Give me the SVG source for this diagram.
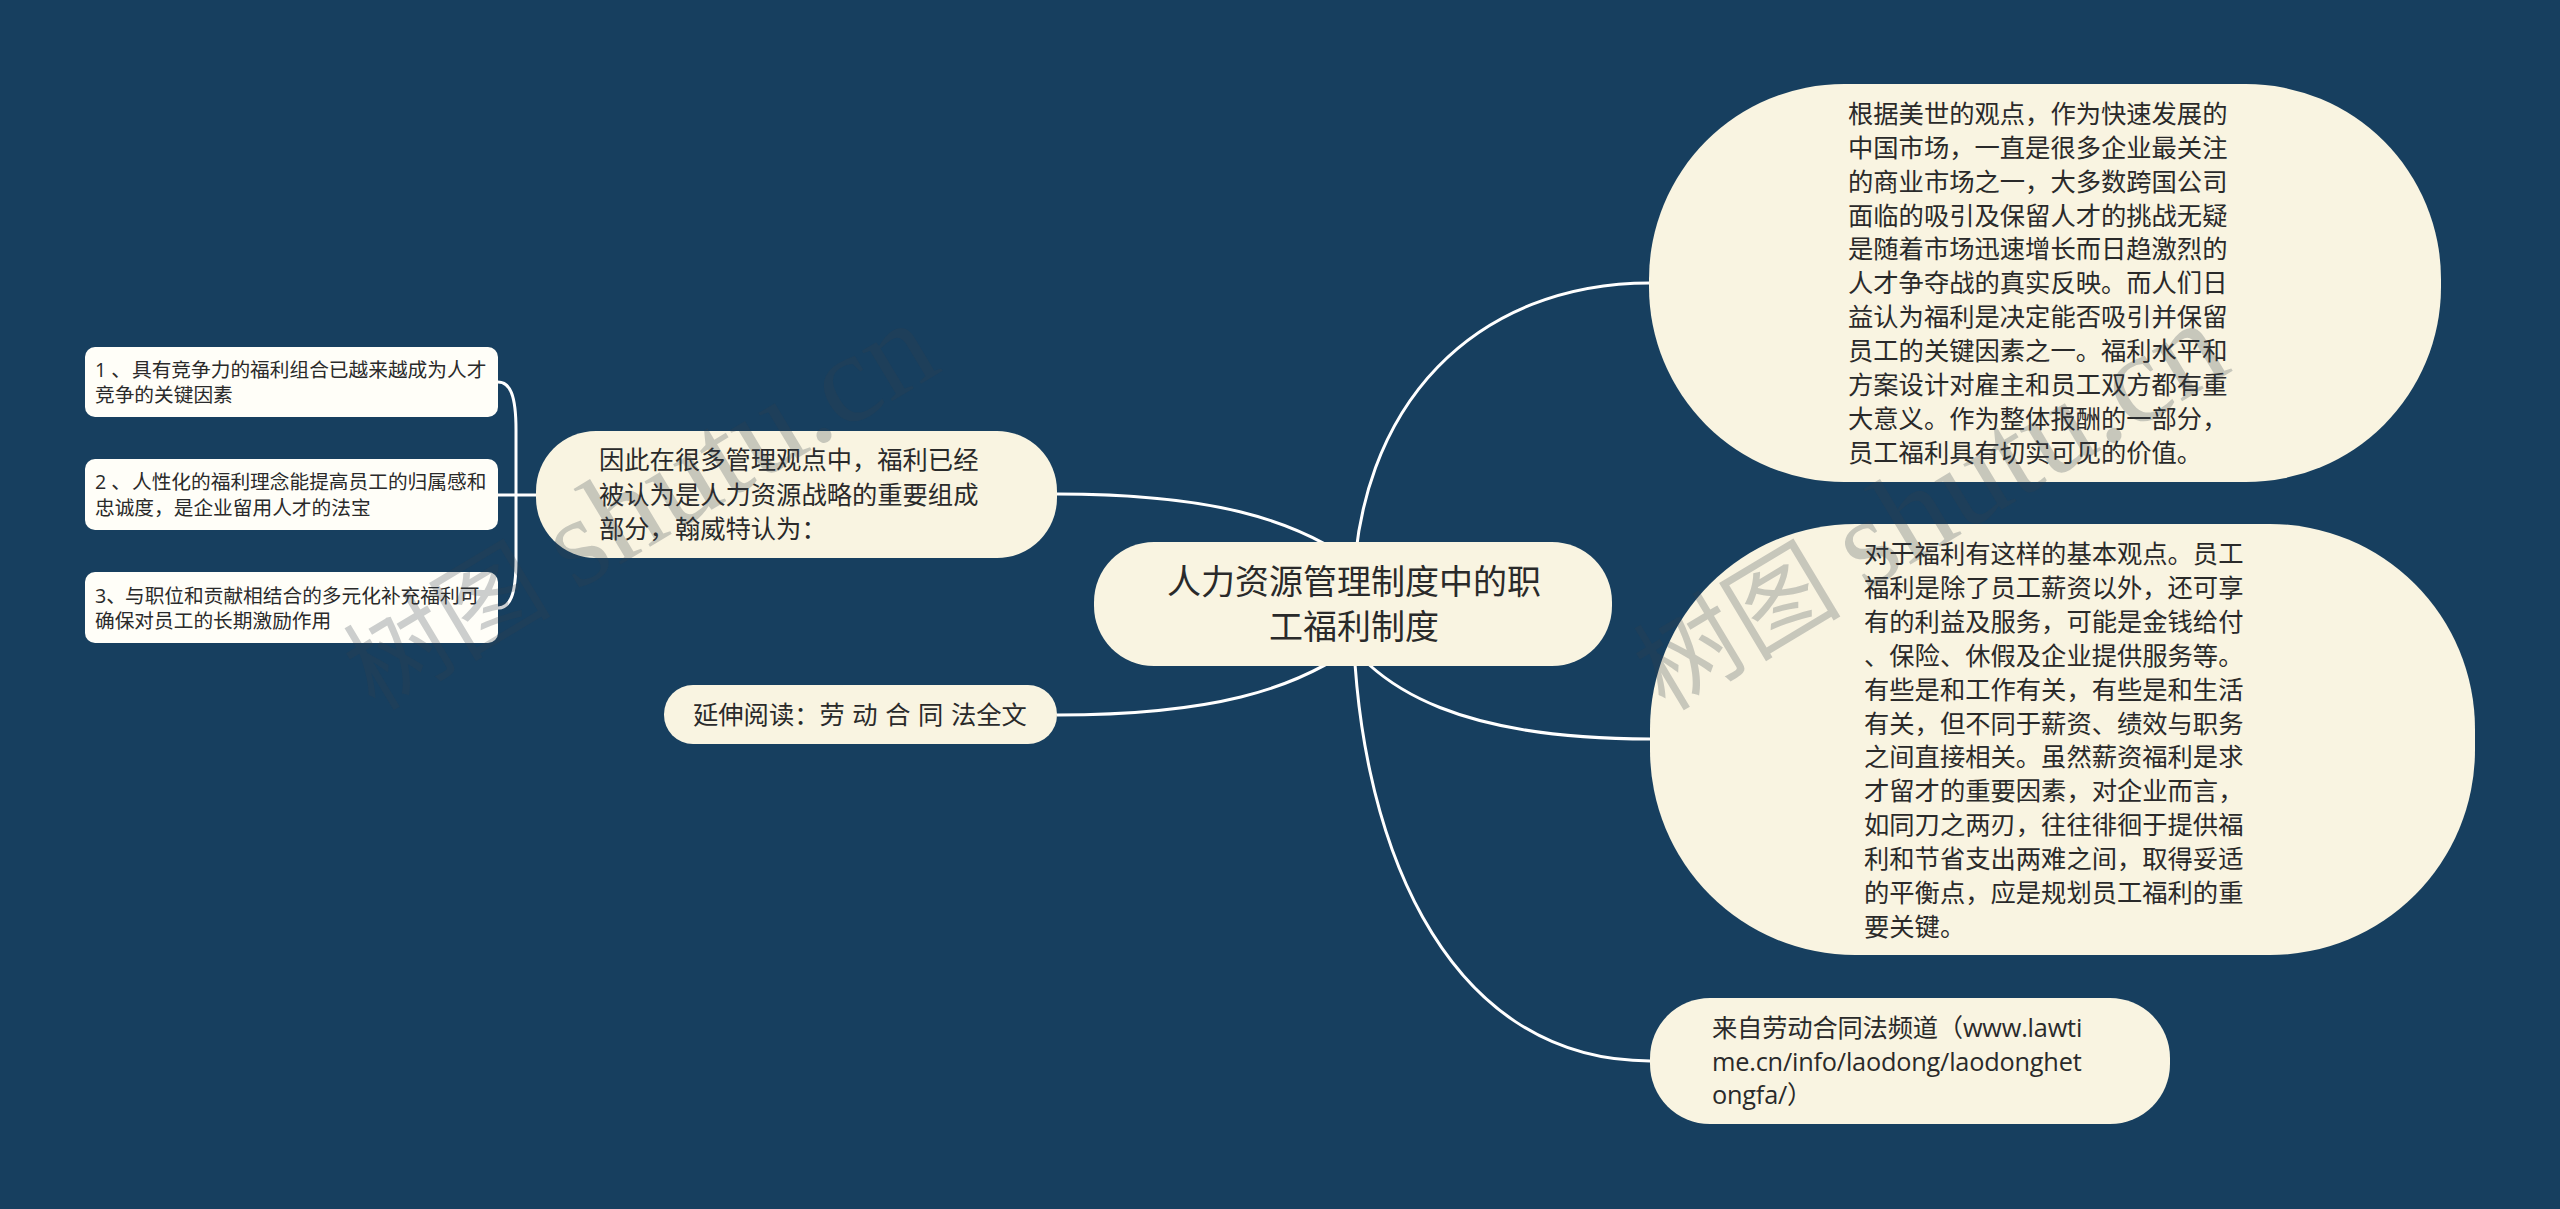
<svg xmlns="http://www.w3.org/2000/svg" width="2560" height="1209" viewBox="0 0 2560 1209">
<style>
text{font-family:"Open Sans","Noto Sans CJK SC",sans-serif;fill:#2a2a2a}
.n{fill:#f9f4e1}.l{fill:#fffef8}
.c{fill:none;stroke:#fff;stroke-width:3}
.t25{font-size:25.3px}.t20{font-size:19.7px}.t33{font-size:34px;text-anchor:middle}
.url{letter-spacing:-.2px}
.wm{font-family:"Liberation Serif","Noto Sans CJK SC",serif;font-size:104px;fill:#35404a;fill-opacity:.25}
.wl{font-size:128px}
</style>
<rect width="2560" height="1209" fill="#173f5f"/>
<g id="connectors" class="c">
<path d="M1353,604C1353,400 1480,283 1650,283"/>
<path d="M1325,604C1368,700 1480,739 1650,739"/>
<path d="M1353,604C1353,830 1440,1061 1650,1061"/>
<path d="M1057,494C1200,494 1300,515 1370,575"/>
<path d="M1057,715C1200,715 1300,694 1370,634"/>
<path d="M498,382C510,382 516,395 516,430L516,560C516,595 510,608 498,608"/>
<path d="M498,495L536,495"/>
</g>
<g id="center"><rect class="n" x="1094" y="542" width="518" height="124" rx="60"/>
<text class="t33" x="1354" y="594">人力资源管理制度中的职</text><text class="t33" x="1354" y="639">工福利制度</text></g>
<g id="leaf1"><rect class="l" x="85" y="347" width="413" height="70" rx="10"/>
<text class="t20" x="95" y="377">1 、<tspan x="132">具有竞争力的福利组合已越来越成为人才</tspan></text><text class="t20" x="95" y="402">竞争的关键因素</text></g>
<g id="leaf2"><rect class="l" x="85" y="459" width="413" height="71" rx="10"/>
<text class="t20" x="95" y="489">2 、<tspan x="132">人性化的福利理念能提高员工的归属感和</tspan></text><text class="t20" x="95" y="515">忠诚度，是企业留用人才的法宝</text></g>
<g id="leaf3"><rect class="l" x="85" y="572" width="413" height="71" rx="10"/>
<text class="t20" x="95" y="603">3、<tspan x="125">与职位和贡献相结合的多元化补充福利可</tspan></text><text class="t20" x="95" y="628">确保对员工的长期激励作用</text></g>
<g id="left1"><rect class="n" x="536" y="431" width="521" height="127" rx="60"/>
<text class="t25" x="599" y="469">因此在很多管理观点中，福利已经</text><text class="t25" x="599" y="504">被认为是人力资源战略的重要组成</text><text class="t25" x="599" y="538">部分，翰威特认为：</text></g>
<g id="left2"><rect class="n" x="664" y="685" width="393" height="59" rx="29"/>
<text class="t25" x="693" y="724" word-spacing="1">延伸阅读：劳 动 合 同 法全文</text></g>
<g id="right1"><rect class="n" x="1649" y="84" width="792" height="398" rx="195"/>
<text class="t25" x="1848" y="123">根据美世的观点，作为快速发展的</text>
<text class="t25" x="1848" y="157">中国市场，一直是很多企业最关注</text>
<text class="t25" x="1848" y="191">的商业市场之一，大多数跨国公司</text>
<text class="t25" x="1848" y="225">面临的吸引及保留人才的挑战无疑</text>
<text class="t25" x="1848" y="258">是随着市场迅速增长而日趋激烈的</text>
<text class="t25" x="1848" y="292">人才争夺战的真实反映。而人们日</text>
<text class="t25" x="1848" y="326">益认为福利是决定能否吸引并保留</text>
<text class="t25" x="1848" y="360">员工的关键因素之一。福利水平和</text>
<text class="t25" x="1848" y="394">方案设计对雇主和员工双方都有重</text>
<text class="t25" x="1848" y="428">大意义。作为整体报酬的一部分，</text>
<text class="t25" x="1848" y="462">员工福利具有切实可见的价值。</text></g>
<g id="right2"><rect class="n" x="1650" y="524" width="825" height="431" rx="205"/>
<text class="t25" x="1864" y="563">对于福利有这样的基本观点。员工</text>
<text class="t25" x="1864" y="597">福利是除了员工薪资以外，还可享</text>
<text class="t25" x="1864" y="631">有的利益及服务，可能是金钱给付</text>
<text class="t25" x="1864" y="665">、保险、休假及企业提供服务等。</text>
<text class="t25" x="1864" y="699">有些是和工作有关，有些是和生活</text>
<text class="t25" x="1864" y="733">有关，但不同于薪资、绩效与职务</text>
<text class="t25" x="1864" y="766">之间直接相关。虽然薪资福利是求</text>
<text class="t25" x="1864" y="800">才留才的重要因素，对企业而言，</text>
<text class="t25" x="1864" y="834">如同刀之两刃，往往徘徊于提供福</text>
<text class="t25" x="1864" y="868">利和节省支出两难之间，取得妥适</text>
<text class="t25" x="1864" y="902">的平衡点，应是规划员工福利的重</text>
<text class="t25" x="1864" y="936">要关键。</text></g>
<g id="right3"><rect class="n" x="1650" y="998" width="520" height="126" rx="60"/>
<text class="t25 url" x="1712" y="1037">来自劳动合同法频道（www.lawti</text><text class="t25 url" x="1712" y="1071">me.cn/info/laodong/laodonghet</text><text class="t25 url" x="1712" y="1104">ongfa/）</text></g>
<g id="watermarks">
<text class="wm" transform="translate(375,712) rotate(-31)">树图 <tspan class="wl">shutu.cn</tspan></text>
<text class="wm" transform="translate(1665,712) rotate(-31)">树图 <tspan class="wl">shutu.cn</tspan></text>
</g>
</svg>
